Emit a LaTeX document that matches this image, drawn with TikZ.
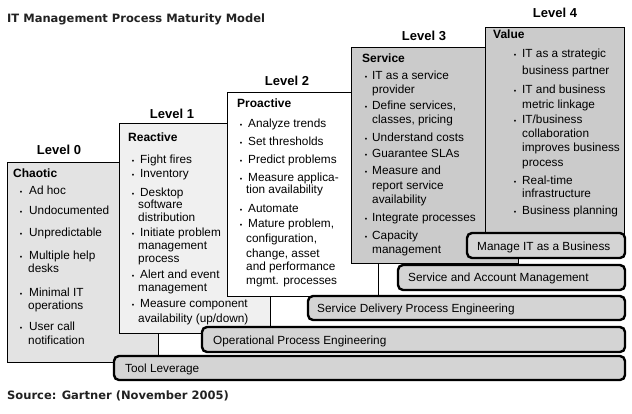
\documentclass[tikz,border=0pt]{standalone}
\usepackage{fontspec}
\setmainfont{Liberation Sans}
\newfontfamily\titlefont{DejaVu Sans}
\definecolor{gzero}{HTML}{E3E3E3}
\definecolor{gone}{HTML}{F0F0F0}
\definecolor{gtwo}{HTML}{FFFFFF}
\definecolor{gthree}{HTML}{CBCBCB}
\definecolor{barg}{HTML}{D4D4D4}
\definecolor{ttl}{HTML}{222222}
\tikzset{
  lvl/.style={font=\fontsize{13}{15}\selectfont\bfseries, anchor=base, inner sep=0},
  hdr/.style={font=\fontsize{12}{14}\selectfont\bfseries, anchor=base west, inner sep=0},
  itm/.style={font=\fontsize{11.8}{14}\selectfont, anchor=base west, inner sep=0},
  bul/.style={font=\fontsize{7}{8}\selectfont, anchor=base, inner sep=0},
  lvlbox/.style={draw=black, line width=0.8pt},
  barbox/.style={draw=black, line width=2.4pt, rounded corners=5pt, fill=barg},
  bartxt/.style={font=\fontsize{11.8}{14}\selectfont, anchor=base west, inner sep=0},
  ttltxt/.style={font=\titlefont\bfseries\fontsize{11.5}{14}\selectfont, text=ttl, anchor=base west, inner sep=0},
}
\newcommand\Bu[3]{\node[bul] (#1) at (#2,#3) {\textbullet};}
\newcommand\Tx[4]{\node[itm] (#1) at (#2,#3) {#4};}
\begin{document}
\begin{tikzpicture}[x=1pt,y=-1pt]
\useasboundingbox[fill=white] (0,0) rectangle (632,413);
\node[ttltxt] (title) at (7,22) {IT Management Process Maturity Model};
\node[ttltxt] (source) at (7,399) {Source: Gartner (November 2005)};
% Level 0
\node[lvl] (lv0) at (59,154) {Level 0};
\path[lvlbox, fill=gzero] (7,162) rectangle (158,362);
\node[hdr] (h0) at (13,177) {Chaotic};
\Bu{b0a}{21}{194}\Tx{t0a}{29}{194}{Ad hoc}
\Bu{b0b}{21}{214}\Tx{t0b}{29}{214}{Undocumented}
\Bu{b0c}{21}{236}\Tx{t0c}{29}{236}{Unpredictable}
\Bu{b0d}{21}{259}\Tx{t0d}{29}{259}{Multiple help}\Tx{t0d2}{28}{272}{desks}
\Bu{b0e}{21}{296}\Tx{t0e}{29}{296}{Minimal IT}\Tx{t0e2}{28}{309}{operations}
\Bu{b0f}{21}{330}\Tx{t0f}{29}{330}{User call}\Tx{t0f2}{28}{344}{notification}
% Level 1
\node[lvl] (lv1) at (172,118) {Level 1};
\path[lvlbox, fill=gone] (119,123) rectangle (270,333);
\node[hdr] (h1) at (128,141) {Reactive};
\Bu{b1a}{133}{163}\Tx{t1a}{140}{163}{Fight fires}
\Bu{b1b}{133}{177}\Tx{t1b}{140}{177}{Inventory}
\Bu{b1c}{133}{196}\Tx{t1c}{140}{196}{Desktop}\Tx{t1c2}{138}{208}{software}\Tx{t1c3}{138}{221}{distribution}
\Bu{b1d}{133}{236}\Tx{t1d}{140}{236}{Initiate problem}\Tx{t1d2}{138}{249}{management}\Tx{t1d3}{138}{262}{process}
\Bu{b1e}{133}{278}\Tx{t1e}{140}{278}{Alert and event}\Tx{t1e2}{138}{291}{management}
\Bu{b1f}{133}{307}\Tx{t1f}{140}{307}{Measure component}\Tx{t1f2}{138}{322}{availability (up/down)}
% Level 2
\node[lvl] (lv2) at (287,85) {Level 2};
\path[lvlbox, fill=gtwo] (227,92) rectangle (378,296);
\node[hdr] (h2) at (237,107) {Proactive};
\Bu{b2a}{241}{127}\Tx{t2a}{248}{127}{Analyze trends}
\Bu{b2b}{241}{145}\Tx{t2b}{248}{145}{Set thresholds}
\Bu{b2c}{241}{163}\Tx{t2c}{248}{163}{Predict problems}
\Bu{b2d}{241}{181}\Tx{t2d}{248}{181}{Measure applica-}\Tx{t2d2}{246}{193}{tion availability}
\Bu{b2e}{241}{212}\Tx{t2e}{248}{212}{Automate}
\Bu{b2f}{241}{227}\Tx{t2f}{248}{227}{Mature problem,}\Tx{t2f2}{246}{242}{configuration,}\Tx{t2f3}{246}{257}{change, asset}\Tx{t2f4}{246}{270}{and performance}\Tx{t2f5}{246}{284}{mgmt. processes}
% Level 3
\node[lvl] (lv3) at (424,40) {Level 3};
\path[lvlbox, fill=gthree] (351,47) rectangle (518,263);
\node[hdr] (h3) at (362,62) {Service};
\Bu{b3a}{366}{79}\Tx{t3a}{372}{79}{IT as a service}\Tx{t3a2}{372}{93}{provider}
\Bu{b3b}{366}{109}\Tx{t3b}{372}{109}{Define services,}\Tx{t3b2}{372}{123}{classes, pricing}
\Bu{b3c}{366}{141}\Tx{t3c}{372}{141}{Understand costs}
\Bu{b3d}{366}{157}\Tx{t3d}{372}{157}{Guarantee SLAs}
\Bu{b3e}{366}{174}\Tx{t3e}{372}{174}{Measure and}\Tx{t3e2}{372}{189}{report service}\Tx{t3e3}{372}{203}{availability}
\Bu{b3f}{366}{221}\Tx{t3f}{372}{221}{Integrate processes}
\Bu{b3g}{366}{239}\Tx{t3g}{372}{239}{Capacity}\Tx{t3g2}{372}{253}{management}
% Level 4
\node[lvl] (lv4) at (555,17) {Level 4};
\path[lvlbox, fill=gthree] (485,27) rectangle (624,248);
\node[hdr] (h4) at (493,38) {Value};
\Bu{b4a}{515}{57}\Tx{t4a}{522}{57}{IT as a strategic}\Tx{t4a2}{522}{74}{business partner}
\Bu{b4b}{515}{93}\Tx{t4b}{522}{93}{IT and business}\Tx{t4b2}{522}{108}{metric linkage}
\Bu{b4c}{515}{123}\Tx{t4c}{522}{123}{IT/business}\Tx{t4c2}{522}{137}{collaboration}\Tx{t4c3}{522}{151}{improves business}\Tx{t4c4}{522}{166}{process}
\Bu{b4d}{515}{184}\Tx{t4d}{522}{184}{Real-time}\Tx{t4d2}{522}{197}{infrastructure}
\Bu{b4e}{515}{214}\Tx{t4e}{522}{214}{Business planning}
% Bars
\path[barbox] (467,233) rectangle (625,258);
\node[bartxt] (bar1) at (477,250) {Manage IT as a Business};
\path[barbox] (398,265) rectangle (625,290);
\node[bartxt] (bar2) at (408,281) {Service and Account Management};
\path[barbox] (308,296) rectangle (625,320);
\node[bartxt] (bar3) at (317,312) {Service Delivery Process Engineering};
\path[barbox] (202,327) rectangle (625,352);
\node[bartxt] (bar4) at (213,344) {Operational Process Engineering};
\path[barbox] (114,356) rectangle (625,380);
\node[bartxt] (bar5) at (125,372) {Tool Leverage};
\end{tikzpicture}
\end{document}
